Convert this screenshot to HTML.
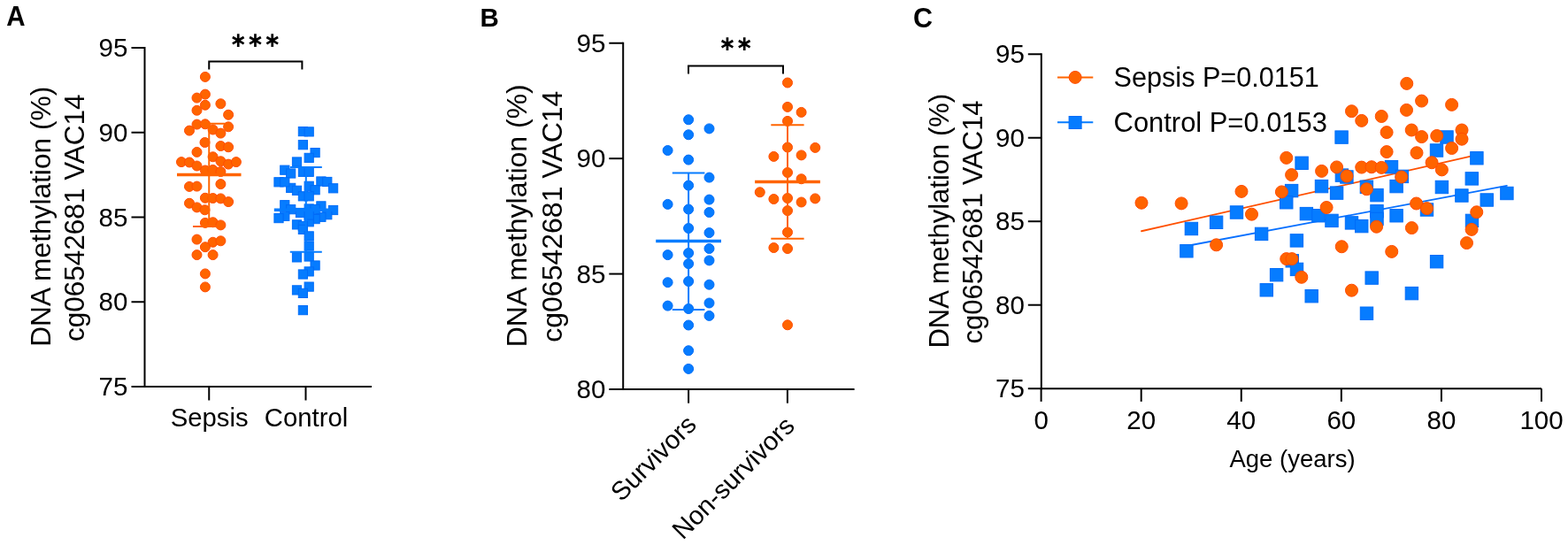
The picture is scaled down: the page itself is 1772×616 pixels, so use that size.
<!DOCTYPE html>
<html><head><meta charset="utf-8"><title>Figure</title>
<style>html,body{margin:0;padding:0;background:#fff;}svg{display:block;}text{font-family:'Liberation Sans', Arial, sans-serif;fill:#000;}</style>
</head><body>
<svg width="1772" height="616" viewBox="0 0 1772 616">
<rect width="1772" height="616" fill="#fff"/>
<text x="0" y="0" font-size="29.5" text-anchor="start" font-weight="bold" transform="translate(7.3,29.3) scale(1,1.05)">A</text>
<line x1="163.5" y1="53" x2="163.5" y2="438" stroke="#000" stroke-width="2"/>
<line x1="162.5" y1="437" x2="420" y2="437" stroke="#000" stroke-width="2"/>
<line x1="148.5" y1="54.0" x2="163.5" y2="54.0" stroke="#000" stroke-width="2"/>
<text x="0" y="0" font-size="29.5" text-anchor="end" font-weight="normal" transform="translate(144.4,64.0)">95</text>
<line x1="148.5" y1="149.75" x2="163.5" y2="149.75" stroke="#000" stroke-width="2"/>
<text x="0" y="0" font-size="29.5" text-anchor="end" font-weight="normal" transform="translate(144.4,159.75)">90</text>
<line x1="148.5" y1="245.5" x2="163.5" y2="245.5" stroke="#000" stroke-width="2"/>
<text x="0" y="0" font-size="29.5" text-anchor="end" font-weight="normal" transform="translate(144.4,255.5)">85</text>
<line x1="148.5" y1="341.25" x2="163.5" y2="341.25" stroke="#000" stroke-width="2"/>
<text x="0" y="0" font-size="29.5" text-anchor="end" font-weight="normal" transform="translate(144.4,351.25)">80</text>
<line x1="148.5" y1="437.0" x2="163.5" y2="437.0" stroke="#000" stroke-width="2"/>
<text x="0" y="0" font-size="29.5" text-anchor="end" font-weight="normal" transform="translate(144.4,447.0)">75</text>
<line x1="236.25" y1="437" x2="236.25" y2="452.5" stroke="#000" stroke-width="2"/>
<line x1="345.5" y1="437" x2="345.5" y2="452.5" stroke="#000" stroke-width="2"/>
<text x="0" y="0" font-size="29.3" text-anchor="middle" font-weight="normal" transform="translate(236.6,482.3)">Sepsis</text>
<text x="0" y="0" font-size="29.3" text-anchor="middle" font-weight="normal" transform="translate(346,482.3)">Control</text>
<text x="0" y="0" font-size="31.7" text-anchor="middle" font-weight="normal" transform="translate(57.3,244.8) rotate(-90)">DNA methylation (%)</text>
<text x="0" y="0" font-size="31.5" text-anchor="middle" font-weight="normal" transform="translate(95,246.2) rotate(-90)">cg06542681 VAC14</text>
<polyline points="236.25,77.4 236.25,69.4 341.4,69.4 341.4,77.4" fill="none" stroke="#000" stroke-width="2" stroke-linejoin="miter" stroke-linecap="square"/>
<text x="0" y="0" font-size="23.5" text-anchor="middle" font-weight="bold" style="font-family:'DejaVu Sans', sans-serif" letter-spacing="-0.45" transform="translate(288.3,52.6)">∗∗∗</text>
<circle cx="231.9" cy="86.9" r="5.5" fill="#FF6400" stroke="#FF4C00" stroke-width="1"/>
<circle cx="231.9" cy="106.6" r="5.5" fill="#FF6400" stroke="#FF4C00" stroke-width="1"/>
<circle cx="222.5" cy="110.6" r="5.5" fill="#FF6400" stroke="#FF4C00" stroke-width="1"/>
<circle cx="231.9" cy="118.75" r="5.5" fill="#FF6400" stroke="#FF4C00" stroke-width="1"/>
<circle cx="249.4" cy="117.25" r="5.5" fill="#FF6400" stroke="#FF4C00" stroke-width="1"/>
<circle cx="222.5" cy="124.75" r="5.5" fill="#FF6400" stroke="#FF4C00" stroke-width="1"/>
<circle cx="258.1" cy="129.75" r="5.5" fill="#FF6400" stroke="#FF4C00" stroke-width="1"/>
<circle cx="222.5" cy="140.6" r="5.5" fill="#FF6400" stroke="#FF4C00" stroke-width="1"/>
<circle cx="231.9" cy="140.3" r="5.5" fill="#FF6400" stroke="#FF4C00" stroke-width="1"/>
<circle cx="258.1" cy="143.3" r="5.5" fill="#FF6400" stroke="#FF4C00" stroke-width="1"/>
<circle cx="214" cy="147.6" r="5.5" fill="#FF6400" stroke="#FF4C00" stroke-width="1"/>
<circle cx="240.6" cy="146.5" r="5.5" fill="#FF6400" stroke="#FF4C00" stroke-width="1"/>
<circle cx="249.4" cy="150.6" r="5.5" fill="#FF6400" stroke="#FF4C00" stroke-width="1"/>
<circle cx="231.5" cy="161" r="5.5" fill="#FF6400" stroke="#FF4C00" stroke-width="1"/>
<circle cx="249.4" cy="165" r="5.5" fill="#FF6400" stroke="#FF4C00" stroke-width="1"/>
<circle cx="258.1" cy="166.25" r="5.5" fill="#FF6400" stroke="#FF4C00" stroke-width="1"/>
<circle cx="222.5" cy="171.9" r="5.5" fill="#FF6400" stroke="#FF4C00" stroke-width="1"/>
<circle cx="240.6" cy="177.25" r="5.5" fill="#FF6400" stroke="#FF4C00" stroke-width="1"/>
<circle cx="205" cy="183.1" r="5.5" fill="#FF6400" stroke="#FF4C00" stroke-width="1"/>
<circle cx="214" cy="183.5" r="5.5" fill="#FF6400" stroke="#FF4C00" stroke-width="1"/>
<circle cx="222.5" cy="187.5" r="5.5" fill="#FF6400" stroke="#FF4C00" stroke-width="1"/>
<circle cx="249.4" cy="182.25" r="5.5" fill="#FF6400" stroke="#FF4C00" stroke-width="1"/>
<circle cx="258.1" cy="185.6" r="5.5" fill="#FF6400" stroke="#FF4C00" stroke-width="1"/>
<circle cx="266.9" cy="183.1" r="5.5" fill="#FF6400" stroke="#FF4C00" stroke-width="1"/>
<circle cx="231.9" cy="192.5" r="5.5" fill="#FF6400" stroke="#FF4C00" stroke-width="1"/>
<circle cx="240.6" cy="191.9" r="5.5" fill="#FF6400" stroke="#FF4C00" stroke-width="1"/>
<circle cx="249.4" cy="194" r="5.5" fill="#FF6400" stroke="#FF4C00" stroke-width="1"/>
<circle cx="214" cy="210.9" r="5.5" fill="#FF6400" stroke="#FF4C00" stroke-width="1"/>
<circle cx="222.5" cy="210.6" r="5.5" fill="#FF6400" stroke="#FF4C00" stroke-width="1"/>
<circle cx="249.4" cy="208.1" r="5.5" fill="#FF6400" stroke="#FF4C00" stroke-width="1"/>
<circle cx="231.9" cy="223.75" r="5.5" fill="#FF6400" stroke="#FF4C00" stroke-width="1"/>
<circle cx="240.6" cy="224" r="5.5" fill="#FF6400" stroke="#FF4C00" stroke-width="1"/>
<circle cx="249.4" cy="224.4" r="5.5" fill="#FF6400" stroke="#FF4C00" stroke-width="1"/>
<circle cx="258.1" cy="228.1" r="5.5" fill="#FF6400" stroke="#FF4C00" stroke-width="1"/>
<circle cx="214" cy="229.75" r="5.5" fill="#FF6400" stroke="#FF4C00" stroke-width="1"/>
<circle cx="222.5" cy="234.4" r="5.5" fill="#FF6400" stroke="#FF4C00" stroke-width="1"/>
<circle cx="231.5" cy="237.25" r="5.5" fill="#FF6400" stroke="#FF4C00" stroke-width="1"/>
<circle cx="231.9" cy="251.9" r="5.5" fill="#FF6400" stroke="#FF4C00" stroke-width="1"/>
<circle cx="240.6" cy="251.25" r="5.5" fill="#FF6400" stroke="#FF4C00" stroke-width="1"/>
<circle cx="249.4" cy="254.4" r="5.5" fill="#FF6400" stroke="#FF4C00" stroke-width="1"/>
<circle cx="222.5" cy="270.6" r="5.5" fill="#FF6400" stroke="#FF4C00" stroke-width="1"/>
<circle cx="240.6" cy="273.75" r="5.5" fill="#FF6400" stroke="#FF4C00" stroke-width="1"/>
<circle cx="249.4" cy="272.3" r="5.5" fill="#FF6400" stroke="#FF4C00" stroke-width="1"/>
<circle cx="231.9" cy="279.2" r="5.5" fill="#FF6400" stroke="#FF4C00" stroke-width="1"/>
<circle cx="222.5" cy="288.1" r="5.5" fill="#FF6400" stroke="#FF4C00" stroke-width="1"/>
<circle cx="240.6" cy="288.1" r="5.5" fill="#FF6400" stroke="#FF4C00" stroke-width="1"/>
<circle cx="231.9" cy="309.4" r="5.5" fill="#FF6400" stroke="#FF4C00" stroke-width="1"/>
<circle cx="231.9" cy="324.4" r="5.5" fill="#FF6400" stroke="#FF4C00" stroke-width="1"/>
<rect x="337.30" y="143.50" width="10.2" height="10.2" fill="#067CFF" stroke="#006CF8" stroke-width="1"/>
<rect x="344.10" y="143.80" width="10.2" height="10.2" fill="#067CFF" stroke="#006CF8" stroke-width="1"/>
<rect x="337.30" y="158.60" width="10.2" height="10.2" fill="#067CFF" stroke="#006CF8" stroke-width="1"/>
<rect x="351.00" y="167.50" width="10.2" height="10.2" fill="#067CFF" stroke="#006CF8" stroke-width="1"/>
<rect x="344.10" y="173.30" width="10.2" height="10.2" fill="#067CFF" stroke="#006CF8" stroke-width="1"/>
<rect x="330.40" y="177.90" width="10.2" height="10.2" fill="#067CFF" stroke="#006CF8" stroke-width="1"/>
<rect x="316.70" y="187.10" width="10.2" height="10.2" fill="#067CFF" stroke="#006CF8" stroke-width="1"/>
<rect x="323.60" y="190.90" width="10.2" height="10.2" fill="#067CFF" stroke="#006CF8" stroke-width="1"/>
<rect x="337.30" y="189.20" width="10.2" height="10.2" fill="#067CFF" stroke="#006CF8" stroke-width="1"/>
<rect x="344.10" y="189.20" width="10.2" height="10.2" fill="#067CFF" stroke="#006CF8" stroke-width="1"/>
<rect x="309.90" y="200.70" width="10.2" height="10.2" fill="#067CFF" stroke="#006CF8" stroke-width="1"/>
<rect x="357.80" y="199.90" width="10.2" height="10.2" fill="#067CFF" stroke="#006CF8" stroke-width="1"/>
<rect x="364.70" y="200.40" width="10.2" height="10.2" fill="#067CFF" stroke="#006CF8" stroke-width="1"/>
<rect x="371.50" y="207.70" width="10.2" height="10.2" fill="#067CFF" stroke="#006CF8" stroke-width="1"/>
<rect x="323.60" y="207.30" width="10.2" height="10.2" fill="#067CFF" stroke="#006CF8" stroke-width="1"/>
<rect x="330.40" y="210.20" width="10.2" height="10.2" fill="#067CFF" stroke="#006CF8" stroke-width="1"/>
<rect x="344.10" y="205.20" width="10.2" height="10.2" fill="#067CFF" stroke="#006CF8" stroke-width="1"/>
<rect x="351.00" y="209.60" width="10.2" height="10.2" fill="#067CFF" stroke="#006CF8" stroke-width="1"/>
<rect x="337.30" y="216.70" width="10.2" height="10.2" fill="#067CFF" stroke="#006CF8" stroke-width="1"/>
<rect x="344.10" y="216.70" width="10.2" height="10.2" fill="#067CFF" stroke="#006CF8" stroke-width="1"/>
<rect x="316.70" y="226.60" width="10.2" height="10.2" fill="#067CFF" stroke="#006CF8" stroke-width="1"/>
<rect x="323.60" y="231.60" width="10.2" height="10.2" fill="#067CFF" stroke="#006CF8" stroke-width="1"/>
<rect x="357.80" y="227.80" width="10.2" height="10.2" fill="#067CFF" stroke="#006CF8" stroke-width="1"/>
<rect x="371.50" y="232.40" width="10.2" height="10.2" fill="#067CFF" stroke="#006CF8" stroke-width="1"/>
<rect x="364.70" y="237.60" width="10.2" height="10.2" fill="#067CFF" stroke="#006CF8" stroke-width="1"/>
<rect x="357.80" y="240.20" width="10.2" height="10.2" fill="#067CFF" stroke="#006CF8" stroke-width="1"/>
<rect x="351.00" y="242.50" width="10.2" height="10.2" fill="#067CFF" stroke="#006CF8" stroke-width="1"/>
<rect x="344.10" y="245.70" width="10.2" height="10.2" fill="#067CFF" stroke="#006CF8" stroke-width="1"/>
<rect x="316.70" y="200.70" width="10.2" height="10.2" fill="#067CFF" stroke="#006CF8" stroke-width="1"/>
<rect x="344.10" y="230.90" width="10.2" height="10.2" fill="#067CFF" stroke="#006CF8" stroke-width="1"/>
<rect x="351.00" y="231.40" width="10.2" height="10.2" fill="#067CFF" stroke="#006CF8" stroke-width="1"/>
<rect x="316.70" y="239.20" width="10.2" height="10.2" fill="#067CFF" stroke="#006CF8" stroke-width="1"/>
<rect x="334.40" y="235.40" width="10.2" height="10.2" fill="#067CFF" stroke="#006CF8" stroke-width="1"/>
<rect x="344.10" y="237.90" width="10.2" height="10.2" fill="#067CFF" stroke="#006CF8" stroke-width="1"/>
<rect x="309.90" y="241.50" width="10.2" height="10.2" fill="#067CFF" stroke="#006CF8" stroke-width="1"/>
<rect x="330.40" y="248.80" width="10.2" height="10.2" fill="#067CFF" stroke="#006CF8" stroke-width="1"/>
<rect x="337.30" y="250.40" width="10.2" height="10.2" fill="#067CFF" stroke="#006CF8" stroke-width="1"/>
<rect x="337.30" y="254.30" width="10.2" height="10.2" fill="#067CFF" stroke="#006CF8" stroke-width="1"/>
<rect x="344.10" y="261.80" width="10.2" height="10.2" fill="#067CFF" stroke="#006CF8" stroke-width="1"/>
<rect x="344.10" y="273.00" width="10.2" height="10.2" fill="#067CFF" stroke="#006CF8" stroke-width="1"/>
<rect x="344.10" y="284.90" width="10.2" height="10.2" fill="#067CFF" stroke="#006CF8" stroke-width="1"/>
<rect x="330.40" y="285.80" width="10.2" height="10.2" fill="#067CFF" stroke="#006CF8" stroke-width="1"/>
<rect x="351.00" y="294.90" width="10.2" height="10.2" fill="#067CFF" stroke="#006CF8" stroke-width="1"/>
<rect x="344.10" y="301.80" width="10.2" height="10.2" fill="#067CFF" stroke="#006CF8" stroke-width="1"/>
<rect x="337.30" y="304.90" width="10.2" height="10.2" fill="#067CFF" stroke="#006CF8" stroke-width="1"/>
<rect x="344.10" y="319.00" width="10.2" height="10.2" fill="#067CFF" stroke="#006CF8" stroke-width="1"/>
<rect x="330.40" y="322.80" width="10.2" height="10.2" fill="#067CFF" stroke="#006CF8" stroke-width="1"/>
<rect x="337.30" y="326.30" width="10.2" height="10.2" fill="#067CFF" stroke="#006CF8" stroke-width="1"/>
<rect x="337.30" y="345.50" width="10.2" height="10.2" fill="#067CFF" stroke="#006CF8" stroke-width="1"/>
<line x1="236.25" y1="139.75" x2="236.25" y2="256" stroke="#FF6400" stroke-width="2"/>
<line x1="218" y1="139.75" x2="254.5" y2="139.75" stroke="#FF6400" stroke-width="2"/>
<line x1="218" y1="256" x2="254.5" y2="256" stroke="#FF6400" stroke-width="2"/>
<line x1="200" y1="197.5" x2="272.5" y2="197.5" stroke="#FF6400" stroke-width="3.5"/>
<line x1="345.8" y1="189.1" x2="345.8" y2="284.75" stroke="#067CFF" stroke-width="2"/>
<line x1="327.8" y1="189.1" x2="363.8" y2="189.1" stroke="#067CFF" stroke-width="2"/>
<line x1="327.8" y1="284.75" x2="363.8" y2="284.75" stroke="#067CFF" stroke-width="2"/>
<line x1="309.8" y1="237.3" x2="381.8" y2="237.3" stroke="#067CFF" stroke-width="3.5"/>
<text x="0" y="0" font-size="29.5" text-anchor="start" font-weight="bold" transform="translate(542.6,29.9)">B</text>
<line x1="704.2" y1="47.75" x2="704.2" y2="441" stroke="#000" stroke-width="2"/>
<line x1="703.2" y1="440" x2="965.6" y2="440" stroke="#000" stroke-width="2"/>
<line x1="688.3" y1="48.75" x2="704.2" y2="48.75" stroke="#000" stroke-width="2"/>
<text x="0" y="0" font-size="29.5" text-anchor="end" font-weight="normal" transform="translate(684.4,58.75)">95</text>
<line x1="688.3" y1="179.16666666666669" x2="704.2" y2="179.16666666666669" stroke="#000" stroke-width="2"/>
<text x="0" y="0" font-size="29.5" text-anchor="end" font-weight="normal" transform="translate(684.4,189.16666666666669)">90</text>
<line x1="688.3" y1="309.58333333333337" x2="704.2" y2="309.58333333333337" stroke="#000" stroke-width="2"/>
<text x="0" y="0" font-size="29.5" text-anchor="end" font-weight="normal" transform="translate(684.4,319.58333333333337)">85</text>
<line x1="688.3" y1="440.0" x2="704.2" y2="440.0" stroke="#000" stroke-width="2"/>
<text x="0" y="0" font-size="29.5" text-anchor="end" font-weight="normal" transform="translate(684.4,450.0)">80</text>
<line x1="778.1" y1="440" x2="778.1" y2="455.7" stroke="#000" stroke-width="2"/>
<line x1="889.9" y1="440" x2="889.9" y2="455.7" stroke="#000" stroke-width="2"/>
<text x="0" y="0" font-size="29.3" text-anchor="end" font-weight="normal" transform="translate(788.5,481.6) rotate(-45)">Survivors</text>
<text x="0" y="0" font-size="29.3" text-anchor="end" font-weight="normal" transform="translate(899.6,483.2) rotate(-45)">Non-survivors</text>
<text x="0" y="0" font-size="32" text-anchor="middle" font-weight="normal" transform="translate(594.8,243.75) rotate(-90)">DNA methylation (%)</text>
<text x="0" y="0" font-size="32" text-anchor="middle" font-weight="normal" transform="translate(634.5,244.7) rotate(-90)">cg06542681 VAC14</text>
<polyline points="778,82.5 778,74.5 885,74.5 885,82.5" fill="none" stroke="#000" stroke-width="2" stroke-linejoin="miter" stroke-linecap="square"/>
<text x="0" y="0" font-size="23.5" text-anchor="middle" font-weight="bold" style="font-family:'DejaVu Sans', sans-serif" letter-spacing="-0.45" transform="translate(831.4,57.2)">∗∗</text>
<circle cx="778.1" cy="135.25" r="5.5" fill="#067CFF" stroke="#006CF8" stroke-width="1"/>
<circle cx="801.5" cy="145.4" r="5.5" fill="#067CFF" stroke="#006CF8" stroke-width="1"/>
<circle cx="778.1" cy="152.25" r="5.5" fill="#067CFF" stroke="#006CF8" stroke-width="1"/>
<circle cx="754.6" cy="170" r="5.5" fill="#067CFF" stroke="#006CF8" stroke-width="1"/>
<circle cx="778.1" cy="180.6" r="5.5" fill="#067CFF" stroke="#006CF8" stroke-width="1"/>
<circle cx="801.5" cy="200.6" r="5.5" fill="#067CFF" stroke="#006CF8" stroke-width="1"/>
<circle cx="778.1" cy="209.6" r="5.5" fill="#067CFF" stroke="#006CF8" stroke-width="1"/>
<circle cx="754.6" cy="230.9" r="5.5" fill="#067CFF" stroke="#006CF8" stroke-width="1"/>
<circle cx="801.5" cy="225.6" r="5.5" fill="#067CFF" stroke="#006CF8" stroke-width="1"/>
<circle cx="778.1" cy="236.5" r="5.5" fill="#067CFF" stroke="#006CF8" stroke-width="1"/>
<circle cx="801.5" cy="240" r="5.5" fill="#067CFF" stroke="#006CF8" stroke-width="1"/>
<circle cx="778.1" cy="258" r="5.5" fill="#067CFF" stroke="#006CF8" stroke-width="1"/>
<circle cx="801.5" cy="263.1" r="5.5" fill="#067CFF" stroke="#006CF8" stroke-width="1"/>
<circle cx="754.6" cy="288.1" r="5.5" fill="#067CFF" stroke="#006CF8" stroke-width="1"/>
<circle cx="778.1" cy="286" r="5.5" fill="#067CFF" stroke="#006CF8" stroke-width="1"/>
<circle cx="801.5" cy="281" r="5.5" fill="#067CFF" stroke="#006CF8" stroke-width="1"/>
<circle cx="778.1" cy="298.1" r="5.5" fill="#067CFF" stroke="#006CF8" stroke-width="1"/>
<circle cx="801.5" cy="294.4" r="5.5" fill="#067CFF" stroke="#006CF8" stroke-width="1"/>
<circle cx="754.6" cy="319.2" r="5.5" fill="#067CFF" stroke="#006CF8" stroke-width="1"/>
<circle cx="778.1" cy="318" r="5.5" fill="#067CFF" stroke="#006CF8" stroke-width="1"/>
<circle cx="801.5" cy="321.7" r="5.5" fill="#067CFF" stroke="#006CF8" stroke-width="1"/>
<circle cx="754.6" cy="345.6" r="5.5" fill="#067CFF" stroke="#006CF8" stroke-width="1"/>
<circle cx="778.1" cy="349" r="5.5" fill="#067CFF" stroke="#006CF8" stroke-width="1"/>
<circle cx="801.5" cy="342.5" r="5.5" fill="#067CFF" stroke="#006CF8" stroke-width="1"/>
<circle cx="801.5" cy="356.9" r="5.5" fill="#067CFF" stroke="#006CF8" stroke-width="1"/>
<circle cx="778.1" cy="367.5" r="5.5" fill="#067CFF" stroke="#006CF8" stroke-width="1"/>
<circle cx="778.1" cy="396.25" r="5.5" fill="#067CFF" stroke="#006CF8" stroke-width="1"/>
<circle cx="778.1" cy="416.9" r="5.5" fill="#067CFF" stroke="#006CF8" stroke-width="1"/>
<circle cx="890" cy="93.5" r="5.5" fill="#FF6400" stroke="#FF4C00" stroke-width="1"/>
<circle cx="890" cy="120.9" r="5.5" fill="#FF6400" stroke="#FF4C00" stroke-width="1"/>
<circle cx="905.6" cy="126.9" r="5.5" fill="#FF6400" stroke="#FF4C00" stroke-width="1"/>
<circle cx="890" cy="136.9" r="5.5" fill="#FF6400" stroke="#FF4C00" stroke-width="1"/>
<circle cx="890" cy="166.5" r="5.5" fill="#FF6400" stroke="#FF4C00" stroke-width="1"/>
<circle cx="921.25" cy="166.9" r="5.5" fill="#FF6400" stroke="#FF4C00" stroke-width="1"/>
<circle cx="874.4" cy="176.9" r="5.5" fill="#FF6400" stroke="#FF4C00" stroke-width="1"/>
<circle cx="905.6" cy="175.4" r="5.5" fill="#FF6400" stroke="#FF4C00" stroke-width="1"/>
<circle cx="890" cy="195" r="5.5" fill="#FF6400" stroke="#FF4C00" stroke-width="1"/>
<circle cx="905.6" cy="202.25" r="5.5" fill="#FF6400" stroke="#FF4C00" stroke-width="1"/>
<circle cx="858.75" cy="217.25" r="5.5" fill="#FF6400" stroke="#FF4C00" stroke-width="1"/>
<circle cx="874.4" cy="225" r="5.5" fill="#FF6400" stroke="#FF4C00" stroke-width="1"/>
<circle cx="890" cy="224" r="5.5" fill="#FF6400" stroke="#FF4C00" stroke-width="1"/>
<circle cx="905.6" cy="228.5" r="5.5" fill="#FF6400" stroke="#FF4C00" stroke-width="1"/>
<circle cx="921.25" cy="224.4" r="5.5" fill="#FF6400" stroke="#FF4C00" stroke-width="1"/>
<circle cx="890" cy="238.1" r="5.5" fill="#FF6400" stroke="#FF4C00" stroke-width="1"/>
<circle cx="890" cy="262.5" r="5.5" fill="#FF6400" stroke="#FF4C00" stroke-width="1"/>
<circle cx="874.4" cy="280" r="5.5" fill="#FF6400" stroke="#FF4C00" stroke-width="1"/>
<circle cx="890" cy="281" r="5.5" fill="#FF6400" stroke="#FF4C00" stroke-width="1"/>
<circle cx="890" cy="367.3" r="5.5" fill="#FF6400" stroke="#FF4C00" stroke-width="1"/>
<line x1="778.1" y1="195.4" x2="778.1" y2="350" stroke="#067CFF" stroke-width="2"/>
<line x1="759.8" y1="195.4" x2="796.4" y2="195.4" stroke="#067CFF" stroke-width="2"/>
<line x1="759.8" y1="350" x2="796.4" y2="350" stroke="#067CFF" stroke-width="2"/>
<line x1="741.2" y1="272.5" x2="815" y2="272.5" stroke="#067CFF" stroke-width="3.5"/>
<line x1="890" y1="141.25" x2="890" y2="269.75" stroke="#FF6400" stroke-width="2"/>
<line x1="871.3" y1="141.25" x2="908.6" y2="141.25" stroke="#FF6400" stroke-width="2"/>
<line x1="871.3" y1="269.75" x2="908.6" y2="269.75" stroke="#FF6400" stroke-width="2"/>
<line x1="853.1" y1="205.4" x2="926.9" y2="205.4" stroke="#FF6400" stroke-width="3.5"/>
<text x="0" y="0" font-size="30.5" text-anchor="start" font-weight="bold" transform="translate(1031.9,30.6)">C</text>
<line x1="1176.8" y1="60.25" x2="1176.8" y2="440.2" stroke="#000" stroke-width="2"/>
<line x1="1175.8" y1="439.2" x2="1742" y2="439.2" stroke="#000" stroke-width="2"/>
<line x1="1161.8" y1="61.25" x2="1176.8" y2="61.25" stroke="#000" stroke-width="2"/>
<text x="0" y="0" font-size="29.5" text-anchor="end" font-weight="normal" transform="translate(1157.9,71.25)">95</text>
<line x1="1161.8" y1="155.7375" x2="1176.8" y2="155.7375" stroke="#000" stroke-width="2"/>
<text x="0" y="0" font-size="29.5" text-anchor="end" font-weight="normal" transform="translate(1157.9,165.7375)">90</text>
<line x1="1161.8" y1="250.225" x2="1176.8" y2="250.225" stroke="#000" stroke-width="2"/>
<text x="0" y="0" font-size="29.5" text-anchor="end" font-weight="normal" transform="translate(1157.9,260.225)">85</text>
<line x1="1161.8" y1="344.7125" x2="1176.8" y2="344.7125" stroke="#000" stroke-width="2"/>
<text x="0" y="0" font-size="29.5" text-anchor="end" font-weight="normal" transform="translate(1157.9,354.7125)">80</text>
<line x1="1161.8" y1="439.2" x2="1176.8" y2="439.2" stroke="#000" stroke-width="2"/>
<text x="0" y="0" font-size="29.5" text-anchor="end" font-weight="normal" transform="translate(1157.9,449.2)">75</text>
<line x1="1176.6" y1="439.2" x2="1176.6" y2="453.9" stroke="#000" stroke-width="2"/>
<text x="0" y="0" font-size="29.5" text-anchor="middle" font-weight="normal" transform="translate(1176.6,485)">0</text>
<line x1="1289.6799999999998" y1="439.2" x2="1289.6799999999998" y2="453.9" stroke="#000" stroke-width="2"/>
<text x="0" y="0" font-size="29.5" text-anchor="middle" font-weight="normal" transform="translate(1289.6799999999998,485)">20</text>
<line x1="1402.76" y1="439.2" x2="1402.76" y2="453.9" stroke="#000" stroke-width="2"/>
<text x="0" y="0" font-size="29.5" text-anchor="middle" font-weight="normal" transform="translate(1402.76,485)">40</text>
<line x1="1515.84" y1="439.2" x2="1515.84" y2="453.9" stroke="#000" stroke-width="2"/>
<text x="0" y="0" font-size="29.5" text-anchor="middle" font-weight="normal" transform="translate(1515.84,485)">60</text>
<line x1="1628.9199999999998" y1="439.2" x2="1628.9199999999998" y2="453.9" stroke="#000" stroke-width="2"/>
<text x="0" y="0" font-size="29.5" text-anchor="middle" font-weight="normal" transform="translate(1628.9199999999998,485)">80</text>
<line x1="1742.0" y1="439.2" x2="1742.0" y2="453.9" stroke="#000" stroke-width="2"/>
<text x="0" y="0" font-size="29.5" text-anchor="middle" font-weight="normal" transform="translate(1742.0,485)">100</text>
<text x="0" y="0" font-size="27.5" text-anchor="middle" font-weight="normal" transform="translate(1460.5,527.6)">Age (years)</text>
<text x="0" y="0" font-size="31" text-anchor="middle" font-weight="normal" transform="translate(1072.3,249.7) rotate(-90)">DNA methylation (%)</text>
<text x="0" y="0" font-size="31" text-anchor="middle" font-weight="normal" transform="translate(1109.8,251) rotate(-90)">cg06542681 VAC14</text>
<line x1="1195" y1="87.4" x2="1235.3" y2="87.4" stroke="#FF6400" stroke-width="2"/>
<circle cx="1215.1" cy="87.4" r="7.0" fill="#FF6400" stroke="#FF4C00" stroke-width="1"/>
<line x1="1195" y1="138.3" x2="1235.3" y2="138.3" stroke="#067CFF" stroke-width="2"/>
<rect x="1208.10" y="131.50" width="14" height="14" fill="#067CFF" stroke="#006CF8" stroke-width="1"/>
<text x="0" y="0" font-size="30.6" text-anchor="start" font-weight="normal" transform="translate(1258.6,98.1)">Sepsis P=0.0151</text>
<text x="0" y="0" font-size="30.9" text-anchor="start" font-weight="normal" transform="translate(1258.6,148.6)">Control P=0.0153</text>
<line x1="1290" y1="261.25" x2="1668.75" y2="175.20" stroke="#FF5000" stroke-width="1.8" stroke-linecap="round"/>
<line x1="1340.9" y1="278.00" x2="1702.9" y2="209.91" stroke="#0870FF" stroke-width="1.8" stroke-linecap="round"/>
<rect x="1339.20" y="251.30" width="14.4" height="14.4" fill="#067CFF" stroke="#006CF8" stroke-width="1"/>
<rect x="1367.40" y="244.10" width="14.4" height="14.4" fill="#067CFF" stroke="#006CF8" stroke-width="1"/>
<rect x="1390.30" y="232.80" width="14.4" height="14.4" fill="#067CFF" stroke="#006CF8" stroke-width="1"/>
<rect x="1333.70" y="276.55" width="14.4" height="14.4" fill="#067CFF" stroke="#006CF8" stroke-width="1"/>
<rect x="1418.40" y="257.20" width="14.4" height="14.4" fill="#067CFF" stroke="#006CF8" stroke-width="1"/>
<rect x="1508.90" y="147.90" width="14.4" height="14.4" fill="#067CFF" stroke="#006CF8" stroke-width="1"/>
<rect x="1463.90" y="177.10" width="14.4" height="14.4" fill="#067CFF" stroke="#006CF8" stroke-width="1"/>
<rect x="1565.30" y="181.55" width="14.4" height="14.4" fill="#067CFF" stroke="#006CF8" stroke-width="1"/>
<rect x="1514.70" y="192.80" width="14.4" height="14.4" fill="#067CFF" stroke="#006CF8" stroke-width="1"/>
<rect x="1509.20" y="190.90" width="14.4" height="14.4" fill="#067CFF" stroke="#006CF8" stroke-width="1"/>
<rect x="1577.20" y="192.20" width="14.4" height="14.4" fill="#067CFF" stroke="#006CF8" stroke-width="1"/>
<rect x="1537.20" y="204.05" width="14.4" height="14.4" fill="#067CFF" stroke="#006CF8" stroke-width="1"/>
<rect x="1570.90" y="203.40" width="14.4" height="14.4" fill="#067CFF" stroke="#006CF8" stroke-width="1"/>
<rect x="1548.80" y="213.40" width="14.4" height="14.4" fill="#067CFF" stroke="#006CF8" stroke-width="1"/>
<rect x="1605.30" y="229.80" width="14.4" height="14.4" fill="#067CFF" stroke="#006CF8" stroke-width="1"/>
<rect x="1548.80" y="231.55" width="14.4" height="14.4" fill="#067CFF" stroke="#006CF8" stroke-width="1"/>
<rect x="1548.80" y="240.30" width="14.4" height="14.4" fill="#067CFF" stroke="#006CF8" stroke-width="1"/>
<rect x="1570.90" y="236.55" width="14.4" height="14.4" fill="#067CFF" stroke="#006CF8" stroke-width="1"/>
<rect x="1520.30" y="244.70" width="14.4" height="14.4" fill="#067CFF" stroke="#006CF8" stroke-width="1"/>
<rect x="1531.55" y="248.40" width="14.4" height="14.4" fill="#067CFF" stroke="#006CF8" stroke-width="1"/>
<rect x="1627.80" y="147.80" width="14.4" height="14.4" fill="#067CFF" stroke="#006CF8" stroke-width="1"/>
<rect x="1616.30" y="162.80" width="14.4" height="14.4" fill="#067CFF" stroke="#006CF8" stroke-width="1"/>
<rect x="1661.70" y="171.55" width="14.4" height="14.4" fill="#067CFF" stroke="#006CF8" stroke-width="1"/>
<rect x="1656.10" y="194.70" width="14.4" height="14.4" fill="#067CFF" stroke="#006CF8" stroke-width="1"/>
<rect x="1622.20" y="204.30" width="14.4" height="14.4" fill="#067CFF" stroke="#006CF8" stroke-width="1"/>
<rect x="1644.70" y="213.80" width="14.4" height="14.4" fill="#067CFF" stroke="#006CF8" stroke-width="1"/>
<rect x="1695.70" y="211.30" width="14.4" height="14.4" fill="#067CFF" stroke="#006CF8" stroke-width="1"/>
<rect x="1673.05" y="218.80" width="14.4" height="14.4" fill="#067CFF" stroke="#006CF8" stroke-width="1"/>
<rect x="1656.30" y="242.20" width="14.4" height="14.4" fill="#067CFF" stroke="#006CF8" stroke-width="1"/>
<rect x="1616.40" y="288.50" width="14.4" height="14.4" fill="#067CFF" stroke="#006CF8" stroke-width="1"/>
<rect x="1588.20" y="324.40" width="14.4" height="14.4" fill="#067CFF" stroke="#006CF8" stroke-width="1"/>
<rect x="1452.40" y="208.40" width="14.4" height="14.4" fill="#067CFF" stroke="#006CF8" stroke-width="1"/>
<rect x="1446.55" y="221.55" width="14.4" height="14.4" fill="#067CFF" stroke="#006CF8" stroke-width="1"/>
<rect x="1486.30" y="203.40" width="14.4" height="14.4" fill="#067CFF" stroke="#006CF8" stroke-width="1"/>
<rect x="1503.40" y="210.90" width="14.4" height="14.4" fill="#067CFF" stroke="#006CF8" stroke-width="1"/>
<rect x="1469.20" y="234.40" width="14.4" height="14.4" fill="#067CFF" stroke="#006CF8" stroke-width="1"/>
<rect x="1482.80" y="236.55" width="14.4" height="14.4" fill="#067CFF" stroke="#006CF8" stroke-width="1"/>
<rect x="1497.80" y="242.20" width="14.4" height="14.4" fill="#067CFF" stroke="#006CF8" stroke-width="1"/>
<rect x="1458.20" y="264.70" width="14.4" height="14.4" fill="#067CFF" stroke="#006CF8" stroke-width="1"/>
<rect x="1453.10" y="287.60" width="14.4" height="14.4" fill="#067CFF" stroke="#006CF8" stroke-width="1"/>
<rect x="1458.30" y="297.20" width="14.4" height="14.4" fill="#067CFF" stroke="#006CF8" stroke-width="1"/>
<rect x="1435.40" y="303.50" width="14.4" height="14.4" fill="#067CFF" stroke="#006CF8" stroke-width="1"/>
<rect x="1424.10" y="320.60" width="14.4" height="14.4" fill="#067CFF" stroke="#006CF8" stroke-width="1"/>
<rect x="1475.00" y="327.50" width="14.4" height="14.4" fill="#067CFF" stroke="#006CF8" stroke-width="1"/>
<rect x="1543.00" y="306.90" width="14.4" height="14.4" fill="#067CFF" stroke="#006CF8" stroke-width="1"/>
<rect x="1537.30" y="347.00" width="14.4" height="14.4" fill="#067CFF" stroke="#006CF8" stroke-width="1"/>
<circle cx="1290" cy="229.25" r="7.0" fill="#FF6400" stroke="#FF4C00" stroke-width="1"/>
<circle cx="1335.1" cy="229.9" r="7.0" fill="#FF6400" stroke="#FF4C00" stroke-width="1"/>
<circle cx="1403" cy="216.4" r="7.0" fill="#FF6400" stroke="#FF4C00" stroke-width="1"/>
<circle cx="1414.5" cy="242.2" r="7.0" fill="#FF6400" stroke="#FF4C00" stroke-width="1"/>
<circle cx="1374.6" cy="276.8" r="7.0" fill="#FF6400" stroke="#FF4C00" stroke-width="1"/>
<circle cx="1527.5" cy="125.7" r="7.0" fill="#FF6400" stroke="#FF4C00" stroke-width="1"/>
<circle cx="1538.75" cy="136.4" r="7.0" fill="#FF6400" stroke="#FF4C00" stroke-width="1"/>
<circle cx="1561.25" cy="131.5" r="7.0" fill="#FF6400" stroke="#FF4C00" stroke-width="1"/>
<circle cx="1589.5" cy="124.4" r="7.0" fill="#FF6400" stroke="#FF4C00" stroke-width="1"/>
<circle cx="1589.75" cy="94.4" r="7.0" fill="#FF6400" stroke="#FF4C00" stroke-width="1"/>
<circle cx="1606.6" cy="114.1" r="7.0" fill="#FF6400" stroke="#FF4C00" stroke-width="1"/>
<circle cx="1640.6" cy="118.4" r="7.0" fill="#FF6400" stroke="#FF4C00" stroke-width="1"/>
<circle cx="1567.1" cy="149.6" r="7.0" fill="#FF6400" stroke="#FF4C00" stroke-width="1"/>
<circle cx="1595.2" cy="147" r="7.0" fill="#FF6400" stroke="#FF4C00" stroke-width="1"/>
<circle cx="1567.1" cy="171.6" r="7.0" fill="#FF6400" stroke="#FF4C00" stroke-width="1"/>
<circle cx="1601" cy="172.75" r="7.0" fill="#FF6400" stroke="#FF4C00" stroke-width="1"/>
<circle cx="1606.6" cy="154.6" r="7.0" fill="#FF6400" stroke="#FF4C00" stroke-width="1"/>
<circle cx="1623.75" cy="153.5" r="7.0" fill="#FF6400" stroke="#FF4C00" stroke-width="1"/>
<circle cx="1652" cy="147" r="7.0" fill="#FF6400" stroke="#FF4C00" stroke-width="1"/>
<circle cx="1652" cy="157.2" r="7.0" fill="#FF6400" stroke="#FF4C00" stroke-width="1"/>
<circle cx="1640.6" cy="167.5" r="7.0" fill="#FF6400" stroke="#FF4C00" stroke-width="1"/>
<circle cx="1618.1" cy="183.75" r="7.0" fill="#FF6400" stroke="#FF4C00" stroke-width="1"/>
<circle cx="1629.4" cy="191.9" r="7.0" fill="#FF6400" stroke="#FF4C00" stroke-width="1"/>
<circle cx="1453.75" cy="178.4" r="7.0" fill="#FF6400" stroke="#FF4C00" stroke-width="1"/>
<circle cx="1459.6" cy="197.6" r="7.0" fill="#FF6400" stroke="#FF4C00" stroke-width="1"/>
<circle cx="1493.6" cy="193.4" r="7.0" fill="#FF6400" stroke="#FF4C00" stroke-width="1"/>
<circle cx="1510.6" cy="188.9" r="7.0" fill="#FF6400" stroke="#FF4C00" stroke-width="1"/>
<circle cx="1522" cy="199" r="7.0" fill="#FF6400" stroke="#FF4C00" stroke-width="1"/>
<circle cx="1538.75" cy="189.1" r="7.0" fill="#FF6400" stroke="#FF4C00" stroke-width="1"/>
<circle cx="1550" cy="188.75" r="7.0" fill="#FF6400" stroke="#FF4C00" stroke-width="1"/>
<circle cx="1561.25" cy="189.4" r="7.0" fill="#FF6400" stroke="#FF4C00" stroke-width="1"/>
<circle cx="1583.75" cy="200" r="7.0" fill="#FF6400" stroke="#FF4C00" stroke-width="1"/>
<circle cx="1544.4" cy="213.75" r="7.0" fill="#FF6400" stroke="#FF4C00" stroke-width="1"/>
<circle cx="1600.6" cy="230" r="7.0" fill="#FF6400" stroke="#FF4C00" stroke-width="1"/>
<circle cx="1612.5" cy="235.6" r="7.0" fill="#FF6400" stroke="#FF4C00" stroke-width="1"/>
<circle cx="1448.4" cy="216.9" r="7.0" fill="#FF6400" stroke="#FF4C00" stroke-width="1"/>
<circle cx="1499.1" cy="234.5" r="7.0" fill="#FF6400" stroke="#FF4C00" stroke-width="1"/>
<circle cx="1668.75" cy="239.75" r="7.0" fill="#FF6400" stroke="#FF4C00" stroke-width="1"/>
<circle cx="1663.1" cy="259.4" r="7.0" fill="#FF6400" stroke="#FF4C00" stroke-width="1"/>
<circle cx="1657.5" cy="274.6" r="7.0" fill="#FF6400" stroke="#FF4C00" stroke-width="1"/>
<circle cx="1595.4" cy="257.6" r="7.0" fill="#FF6400" stroke="#FF4C00" stroke-width="1"/>
<circle cx="1555.6" cy="256.25" r="7.0" fill="#FF6400" stroke="#FF4C00" stroke-width="1"/>
<circle cx="1572.75" cy="284.4" r="7.0" fill="#FF6400" stroke="#FF4C00" stroke-width="1"/>
<circle cx="1516.25" cy="278.75" r="7.0" fill="#FF6400" stroke="#FF4C00" stroke-width="1"/>
<circle cx="1453.75" cy="292.6" r="7.0" fill="#FF6400" stroke="#FF4C00" stroke-width="1"/>
<circle cx="1460" cy="292.6" r="7.0" fill="#FF6400" stroke="#FF4C00" stroke-width="1"/>
<circle cx="1470.8" cy="313.3" r="7.0" fill="#FF6400" stroke="#FF4C00" stroke-width="1"/>
<circle cx="1527.5" cy="328.2" r="7.0" fill="#FF6400" stroke="#FF4C00" stroke-width="1"/>
</svg>
</body></html>
